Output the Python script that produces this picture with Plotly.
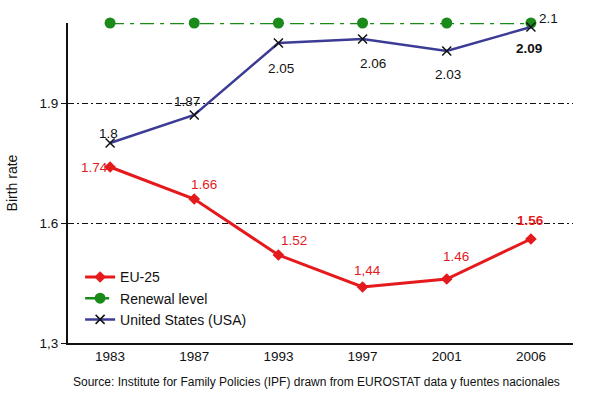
import plotly.graph_objects as go

years = ["1983", "1987", "1993", "1997", "2001", "2006"]
eu25 = [1.74, 1.66, 1.52, 1.44, 1.46, 1.56]
eu25_labels = ["1.74", "1.66", "1.52", "1,44", "1.46", "<b>1.56</b>"]
renewal = [2.1, 2.1, 2.1, 2.1, 2.1, 2.1]
usa = [1.8, 1.87, 2.05, 2.06, 2.03, 2.09]
usa_labels = ["1.8", "1.87", "2.05", "2.06", "2.03", "<b>2.09</b>"]
ytick_vals = [1.3, 1.6, 1.9]
ytick_text = ["1,3", "1.6", "1.9"]

FONT = "Liberation Sans, Arial, sans-serif"
FS = 13.5

fig = go.Figure()
fig.add_trace(go.Scatter(
    x=years, y=eu25, name="EU-25", mode="lines+markers",
    line=dict(color="#e41a1c", width=3),
    marker=dict(symbol="diamond", size=9, color="#e41a1c"),
    cliponaxis=False))
fig.add_trace(go.Scatter(
    x=years, y=renewal, name="Renewal level", mode="lines+markers",
    line=dict(color="#1a8a1a", width=2.5, dash="14px,6px,4px,6px"),
    marker=dict(symbol="circle", size=11, color="#1a8a1a"),
    cliponaxis=False))
fig.add_trace(go.Scatter(
    x=years, y=usa, name="United States (USA)", mode="lines+markers",
    line=dict(color="#3c3c96", width=2.5),
    marker=dict(symbol="x-thin", size=9, color="#000000",
                line=dict(color="#111111", width=1.5)),
    cliponaxis=False))

eu_off = [(-16, 0), (10, 15), (16, 15), (5, 17), (9, 23), (0, 19)]
us_off = [(-2, 10), (-7, 14), (3, -25), (10, -24), (1, -23), (-2, -21)]
for i in range(len(years)):
    fig.add_annotation(x=i, y=eu25[i], text=eu25_labels[i], showarrow=False,
                       xshift=eu_off[i][0], yshift=eu_off[i][1],
                       font=dict(color="#e41a1c", size=FS, family=FONT))
    fig.add_annotation(x=i, y=usa[i], text=usa_labels[i], showarrow=False,
                       xshift=us_off[i][0], yshift=us_off[i][1],
                       font=dict(color="#111111", size=FS, family=FONT))
fig.add_annotation(x=len(years) - 1, y=renewal[-1], text="2.1", showarrow=False,
                   xshift=18, yshift=5, font=dict(color="#111111", size=FS, family=FONT))

fig.add_annotation(xref="paper", yref="paper", x=0.493, y=-0.122,
                   text="Source: Institute for Family Policies (IPF) drawn from EUROSTAT data y fuentes nacionales",
                   showarrow=False, xanchor="center", yanchor="middle",
                   font=dict(size=12, color="#111111", family=FONT))

fig.update_layout(
    width=600, height=395,
    margin=dict(l=68, r=27, t=23, b=52),
    paper_bgcolor="white", plot_bgcolor="white",
    font=dict(family=FONT, size=FS, color="#111111"),
    showlegend=True,
    legend=dict(x=0.024, y=0.255, xanchor="left", yanchor="top",
                bgcolor="rgba(0,0,0,0)", font=dict(size=14, family=FONT),
                tracegroupgap=0),
    xaxis=dict(type="category", range=[-0.5, 5.5], showgrid=False,
               showline=True, linecolor="#111111", linewidth=1.5,
               ticks="", tickfont=dict(size=FS), zeroline=False),
    yaxis=dict(range=[1.3, 2.1], tickvals=ytick_vals, ticktext=ytick_text,
               showgrid=True, gridcolor="#111111", gridwidth=1,
               griddash="6px,3px,2px,3px",
               showline=True, linecolor="#111111", linewidth=2,
               ticks="outside", ticklen=5, tickcolor="#111111",
               tickfont=dict(size=FS),
               title=dict(text="Birth rate", font=dict(size=14), standoff=19),
               zeroline=False),
)

fig.write_html("out.html", config={"displayModeBar": False},
               post_script="document.body.style.margin='0';")
